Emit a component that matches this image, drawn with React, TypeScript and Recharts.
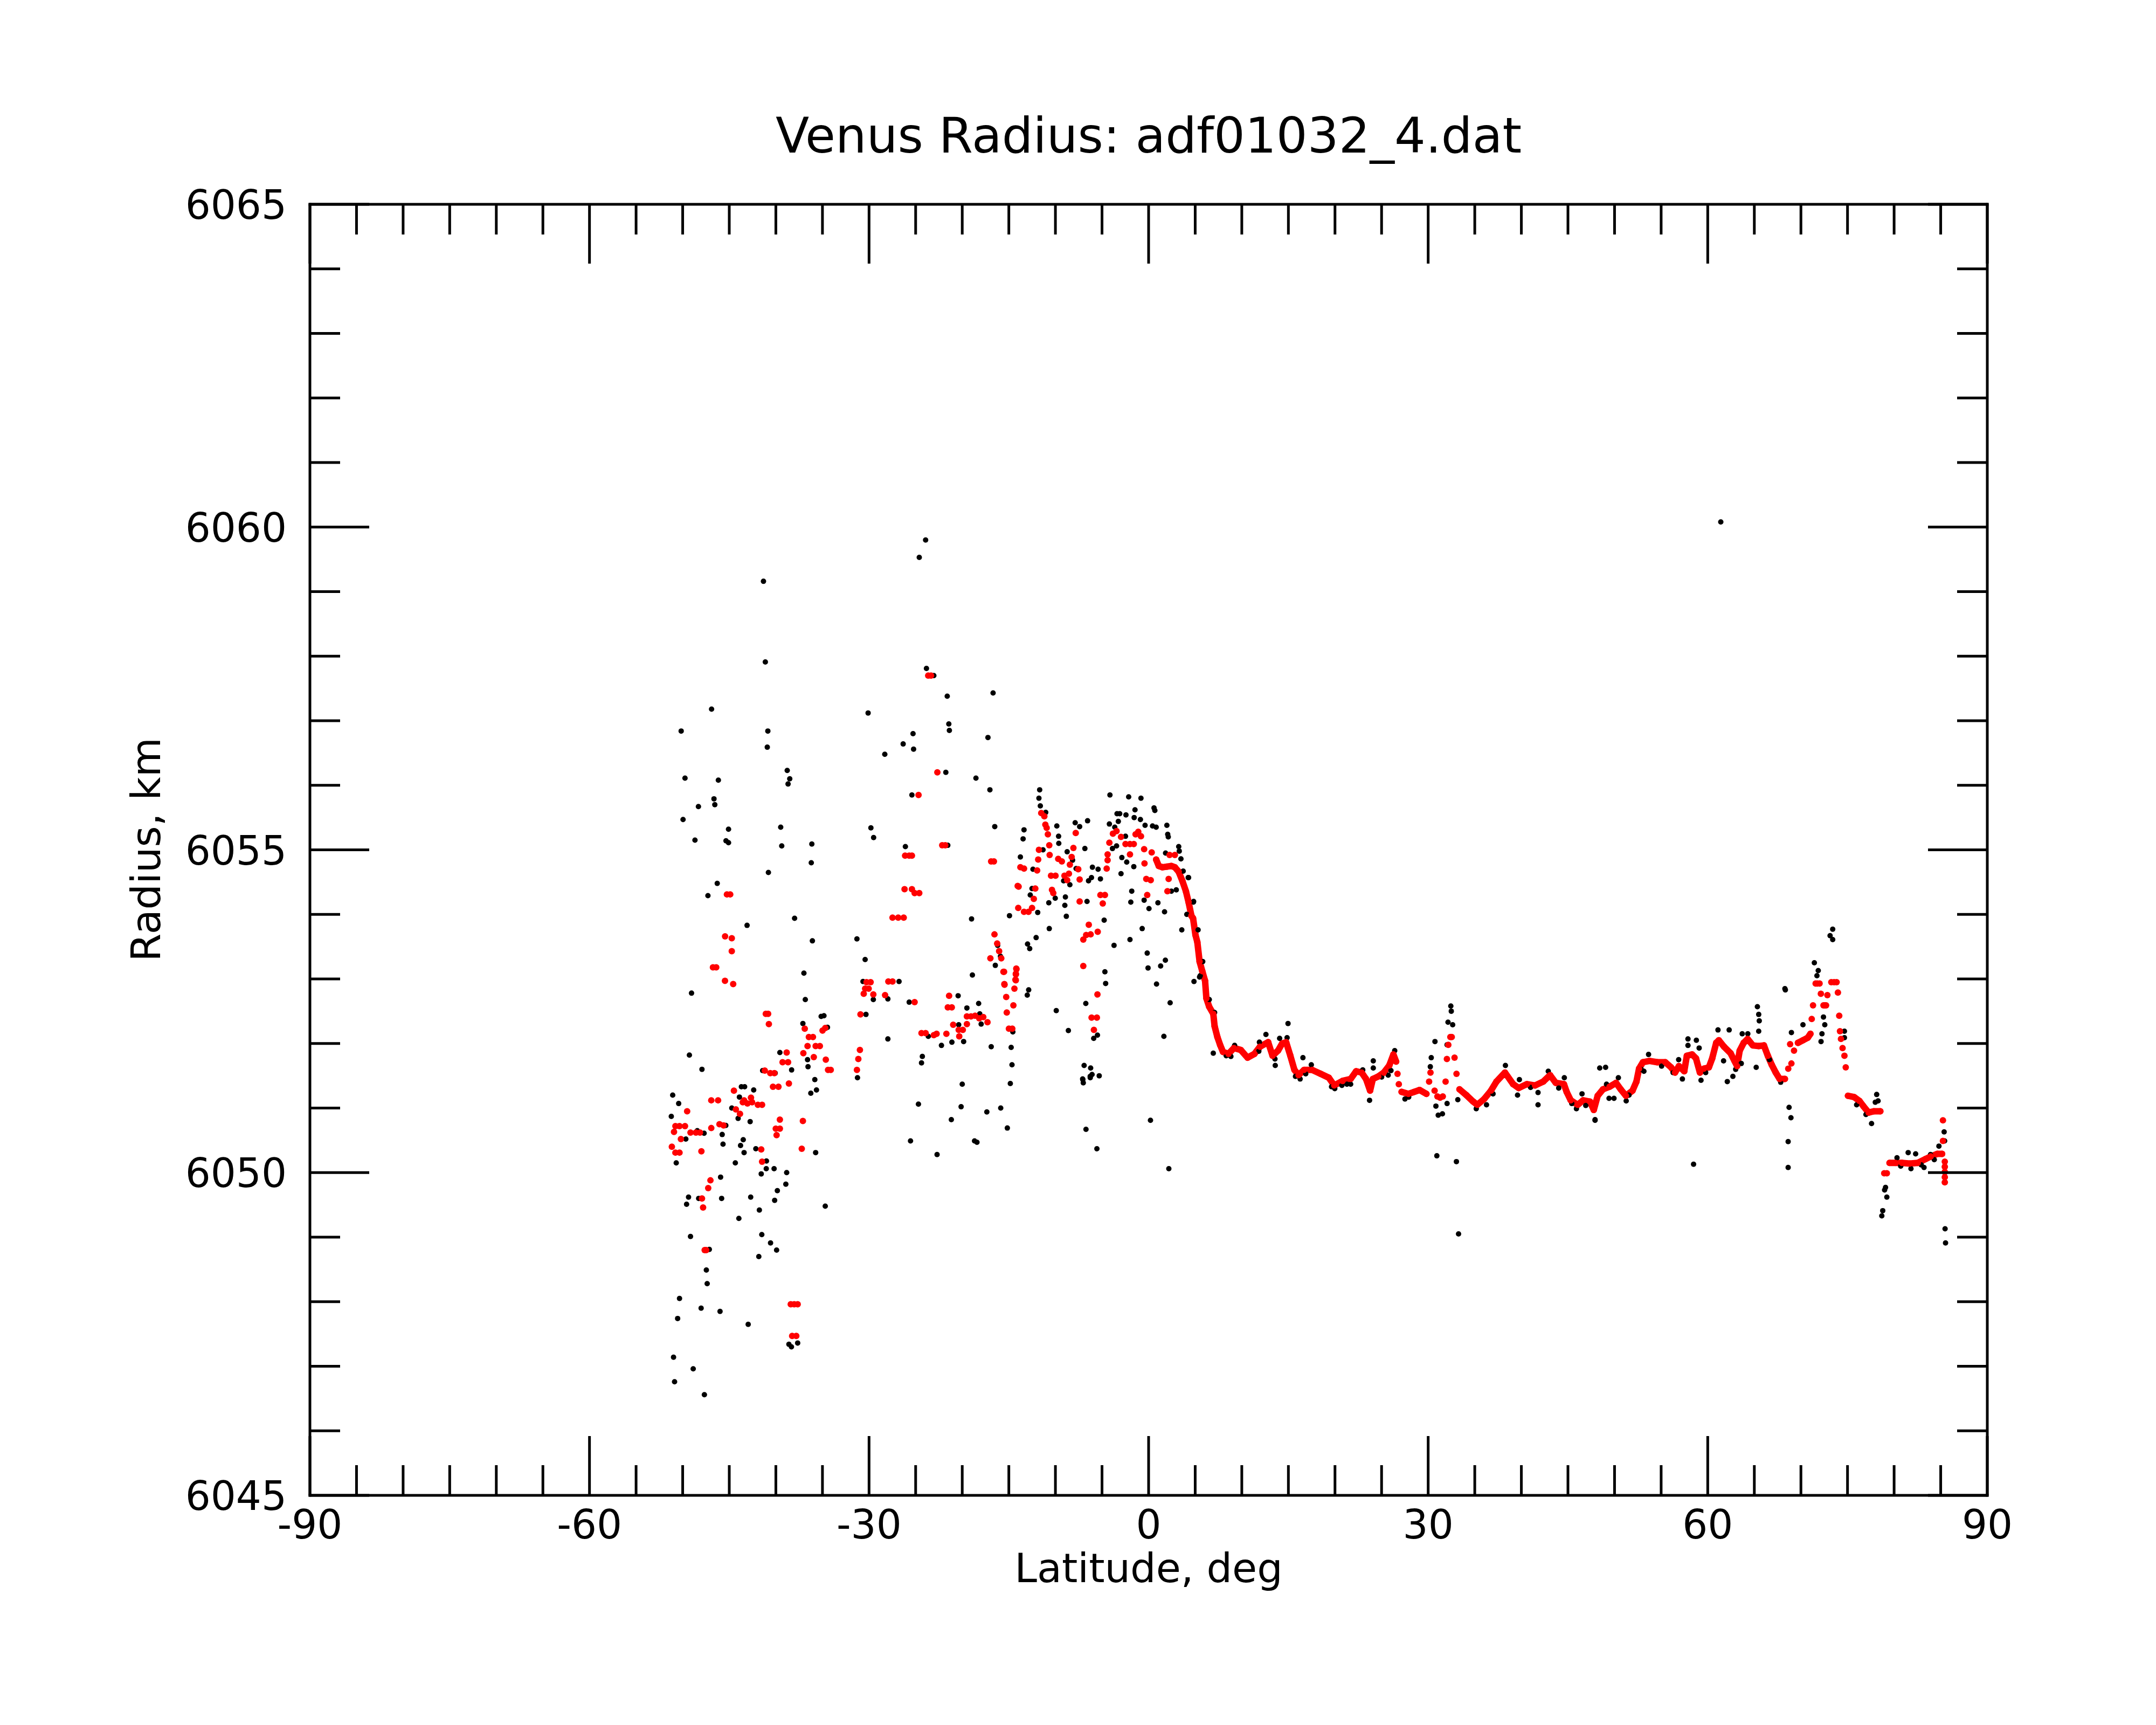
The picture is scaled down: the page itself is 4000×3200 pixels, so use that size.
import React from 'react';
import { ComposedChart, Scatter, Line, XAxis, YAxis } from 'recharts';

type P = [number, number];

// ---- axes ----
const latTicks = [-90, -85, -80, -75, -70, -65, -60, -55, -50, -45, -40, -35, -30, -25, -20, -15, -10, -5, 0, 5, 10, 15, 20, 25, 30, 35, 40, 45, 50, 55, 60, 65, 70, 75, 80, 85, 90];
const latMajor = [-90, -60, -30, 0, 30, 60, 90];
const radTicks = [6045, 6046, 6047, 6048, 6049, 6050, 6051, 6052, 6053, 6054, 6055, 6056, 6057, 6058, 6059, 6060, 6061, 6062, 6063, 6064, 6065];
const radMajor = [6045, 6050, 6055, 6060, 6065];

const TITLE = 'Venus Radius: adf01032_4.dat';
const X_LABEL = 'Latitude, deg';
const Y_LABEL = 'Radius, km';

// ---- raw measurements (black) ----
const rawSouth: P[] = [
  [-41.33, 6059.16], [-41.13, 6057.91], [-46.9, 6057.18], [-50.16, 6056.84], [-40.86, 6056.84], [-40.92, 6056.59],
  [-49.75, 6056.11], [-46.17, 6056.08], [-38.78, 6056.23], [-38.51, 6056.1], [-38.69, 6056.02], [-46.64, 6055.79],
  [-46.55, 6055.7], [-48.31, 6055.67], [-49.96, 6055.47], [-45.08, 6055.32], [-48.68, 6055.15], [-45.35, 6055.14],
  [-45.08, 6055.11], [-39.48, 6055.35], [-39.37, 6055.06], [-36.14, 6055.09], [-36.2, 6054.8], [-40.8, 6054.65],
  [-46.29, 6054.48], [-47.29, 6054.29], [-43.09, 6053.83], [-37.99, 6053.94], [-36.08, 6053.59], [-31.3, 6053.62],
  [-30.42, 6053.3], [-30.1, 6057.12],
  [-36.99, 6053.09], [-36.84, 6052.68], [-49.05, 6052.78], [-49.28, 6051.82], [-47.93, 6051.6], [-51.07, 6051.2],
  [-50.43, 6051.07], [-51.22, 6050.87], [-50.78, 6050.72], [-49.66, 6050.52], [-48.43, 6050.65], [-47.7, 6050.61],
  [-50.69, 6050.15], [-45.76, 6050.59], [-45.67, 6050.44], [-45.37, 6050.73], [-44.73, 6051.0], [-44.05, 6050.84],
  [-43.91, 6051.17], [-43.7, 6051.33], [-43.35, 6051.33], [-42.38, 6051.28], [-42.76, 6050.79], [-43.5, 6050.51],
  [-43.79, 6050.42], [-43.41, 6050.31], [-44.35, 6050.15], [-42.15, 6050.37], [-41.01, 6050.18], [-40.19, 6050.06],
  [-41.03, 6050.06], [-41.57, 6049.98], [-38.84, 6050.0], [-38.93, 6049.82], [-39.84, 6049.72], [-40.13, 6049.57],
  [-41.77, 6049.42], [-42.7, 6049.62], [-45.82, 6049.6], [-43.97, 6049.29], [-45.93, 6049.93], [-49.37, 6049.62],
  [-49.58, 6049.51], [-48.28, 6049.6], [-49.16, 6049.01], [-47.14, 6048.81], [-47.46, 6048.49], [-47.37, 6048.28],
  [-41.51, 6049.04], [-40.57, 6048.91], [-39.92, 6048.8], [-41.83, 6048.7], [-50.34, 6048.05], [-48.02, 6047.9],
  [-45.99, 6047.85], [-50.54, 6047.74], [-42.97, 6047.65], [-50.98, 6047.14], [-48.87, 6046.96], [-50.87, 6046.76],
  [-47.67, 6046.56], [-38.6, 6047.34], [-37.66, 6047.36], [-38.33, 6047.3],
  [-34.7, 6049.48], [-35.73, 6050.31], [-35.82, 6051.44], [-35.64, 6051.28], [-36.25, 6051.23], [-36.55, 6051.64],
  [-36.6, 6051.75], [-38.31, 6051.59], [-39.57, 6051.86], [-35.14, 6052.42], [-34.84, 6052.43], [-34.46, 6052.25],
  [-37.1, 6052.31], [-41.42, 6051.58], [-40.07, 6051.54], [-30.65, 6052.96], [-30.33, 6052.45], [-31.24, 6051.47],
];

const rawMid: P[] = [
  [-23.93, 6059.8], [-24.61, 6059.53], [-23.84, 6057.81], [-23.05, 6057.7], [-21.61, 6057.38], [-16.69, 6057.43],
  [-21.44, 6056.95], [-21.38, 6056.85], [-25.28, 6056.8], [-26.34, 6056.64], [-25.22, 6056.56], [-28.31, 6056.48],
  [-17.24, 6056.74], [-21.76, 6056.2], [-18.53, 6056.11], [-17.03, 6055.93], [-25.4, 6055.85], [-29.8, 6055.34],
  [-29.51, 6055.19], [-26.1, 6055.05], [-21.55, 6055.07], [-16.51, 6055.36], [-19.0, 6053.93], [-14.93, 6053.98],
  [-29.54, 6052.68], [-27.98, 6052.69], [-26.78, 6052.96], [-27.98, 6052.07], [-25.69, 6052.64], [-20.44, 6052.74],
  [-19.5, 6052.55], [-18.24, 6052.62], [-18.12, 6052.46], [-17.97, 6052.3], [-20.38, 6052.29], [-19.85, 6052.03],
  [-23.64, 6052.11], [-24.28, 6051.8], [-24.37, 6051.7], [-22.23, 6051.97], [-21.11, 6052.02], [-20.0, 6051.37],
  [-20.12, 6051.02], [-24.7, 6051.06], [-21.17, 6050.82], [-25.55, 6050.49], [-22.7, 6050.28], [-18.68, 6050.49],
  [-18.42, 6050.47], [-17.36, 6050.94], [-15.87, 6051.0], [-15.16, 6050.69], [-16.89, 6051.95], [-14.75, 6051.94],
  [-14.66, 6051.67], [-14.84, 6051.38], [-14.57, 6052.18], [-18.91, 6053.06], [-12.87, 6052.83], [-13.02, 6052.75],
  [-9.91, 6052.51], [-8.61, 6052.2], [-6.74, 6052.62], [-6.92, 6051.66], [-6.22, 6051.62], [-7.06, 6051.44],
  [-6.27, 6051.49], [-6.72, 6050.67], [-16.2, 6053.52], [-15.9, 6053.35], [-16.45, 6053.21],
  [-11.69, 6055.93], [-11.77, 6055.8], [-11.62, 6055.68], [-11.04, 6055.58], [-13.37, 6055.31], [-13.47, 6055.17],
  [-13.76, 6054.89], [-11.33, 6055.0], [-9.85, 6055.37], [-9.66, 6055.21], [-9.64, 6055.1], [-7.88, 6055.42],
  [-7.4, 6055.36], [-6.55, 6055.45], [-6.84, 6055.02], [-8.74, 6054.97], [-8.16, 6054.84], [-12.41, 6054.7],
  [-7.78, 6054.71], [-6.03, 6054.73], [-5.42, 6054.7], [-5.17, 6054.55], [-6.13, 6054.57], [-6.45, 6054.52],
  [-8.45, 6054.46], [-9.12, 6054.52], [-12.51, 6054.4], [-12.7, 6054.3], [-10.71, 6054.18], [-10.02, 6054.25],
  [-8.93, 6054.27], [-8.99, 6054.14], [-8.83, 6053.97], [-6.61, 6054.2], [-11.9, 6054.03], [-10.66, 6053.78],
  [-12.07, 6053.64], [-12.99, 6053.54], [-12.76, 6053.47], [-4.77, 6053.91], [-3.71, 6053.52], [-4.69, 6053.11],
  [-4.61, 6052.93], [-4.15, 6055.85], [-2.14, 6055.82], [-0.82, 6055.8], [-1.46, 6055.62], [0.58, 6055.65],
  [0.67, 6055.61], [-3.39, 6055.56], [-3.1, 6055.56], [-2.43, 6055.54], [-1.55, 6055.5], [-0.88, 6055.47],
  [-0.38, 6055.38], [0.42, 6055.37], [0.81, 6055.35], [1.96, 6055.38], [2.05, 6055.24], [2.11, 6055.2],
  [-4.21, 6055.4], [-3.25, 6055.44], [-3.63, 6055.35], [-3.88, 6055.02], [-3.44, 6055.06], [-2.48, 6055.21],
  [-2.87, 6054.88], [-2.35, 6054.81], [-1.59, 6054.74], [-2.96, 6054.63], [-1.81, 6054.36], [-1.91, 6054.19],
  [-0.48, 6054.22], [0.04, 6054.09], [1.0, 6054.18], [1.71, 6054.04], [-0.69, 6053.78], [-2.0, 6053.61],
  [-0.15, 6053.4], [1.8, 6053.29], [1.29, 6053.2], [-0.06, 6053.17], [0.85, 6052.92], [3.23, 6055.05],
  [3.29, 6054.98], [1.82, 6054.95], [3.47, 6054.86], [3.71, 6054.67], [4.25, 6054.57], [2.97, 6054.38],
  [2.44, 6054.36], [4.83, 6054.2], [4.1, 6054.0], [3.56, 6053.76], [5.31, 6053.76], [4.87, 6052.96],
  [5.54, 6053.05], [2.31, 6052.63], [-5.49, 6052.13], [-5.89, 6052.08], [1.64, 6052.11], [-6.07, 6051.52],
  [-6.26, 6051.47], [-5.3, 6051.5], [-7.08, 6051.45], [-7.01, 6051.39], [0.2, 6050.81], [-5.55, 6050.37],
  [2.17, 6050.06],
];

const rawNorth: P[] = [
  [4.29, 6054.57], [4.81, 6054.19], [5.81, 6053.27], [5.47, 6053.03], [6.51, 6052.68], [7.08, 6052.48],
  [6.94, 6051.85], [9.23, 6051.97], [11.89, 6052.02], [12.59, 6052.14], [13.59, 6051.66], [14.06, 6052.08],
  [14.96, 6052.31], [14.86, 6052.09], [16.56, 6051.78], [15.76, 6051.49], [17.46, 6051.67], [19.63, 6051.33],
  [20.74, 6051.35], [21.68, 6051.37], [22.98, 6051.59], [24.11, 6051.73], [24.11, 6051.62], [23.71, 6051.12],
  [26.41, 6051.89], [25.71, 6051.51], [27.51, 6051.14], [30.73, 6052.03], [30.33, 6051.78], [30.23, 6051.64],
  [30.83, 6051.03], [31.08, 6050.89], [31.53, 6050.91], [30.93, 6050.26], [32.43, 6052.58], [32.48, 6052.5],
  [32.13, 6052.33], [32.63, 6052.29], [32.03, 6051.98], [32.03, 6051.07], [33.18, 6051.13], [33.03, 6050.17],
  [33.26, 6049.05], [35.16, 6050.99], [36.26, 6051.05], [38.29, 6051.66], [39.59, 6051.2], [39.79, 6051.44],
  [41.79, 6051.05], [41.79, 6051.24], [42.89, 6051.57], [44.01, 6051.31], [44.61, 6051.47], [45.91, 6050.99],
  [46.51, 6051.22], [47.91, 6050.82], [49.04, 6051.63], [49.14, 6051.37], [49.94, 6051.15],
  [8.33, 6051.81], [8.83, 6051.8], [11.83, 6051.88], [13.56, 6051.76], [16.26, 6051.45], [16.86, 6051.53],
  [19.98, 6051.3], [21.28, 6051.37], [25.01, 6051.48], [26.01, 6051.58], [27.91, 6051.17], [36.96, 6051.22],
  [40.99, 6051.32], [45.41, 6051.07], [46.91, 6051.04],
  [73.41, 6053.77], [73.13, 6053.67], [73.41, 6053.61], [71.44, 6053.25], [71.86, 6053.13], [71.72, 6053.05],
  [68.28, 6052.85], [68.33, 6052.83], [65.33, 6052.57], [65.47, 6052.45], [65.53, 6052.35], [65.47, 6052.19],
  [70.22, 6052.29], [68.98, 6052.17], [72.26, 6052.15], [72.16, 6052.03], [72.42, 6052.41], [72.56, 6052.29],
  [74.67, 6052.19], [74.67, 6052.09], [62.3, 6052.21], [61.1, 6052.21], [57.88, 6052.07], [57.88, 6051.97],
  [58.78, 6052.05], [59.08, 6051.93], [63.7, 6052.15], [64.3, 6052.15], [65.2, 6051.63], [62.1, 6051.41],
  [62.7, 6051.49], [63.6, 6051.69], [61.7, 6051.73], [56.88, 6051.75], [57.28, 6051.45], [59.28, 6051.43],
  [58.48, 6050.13], [48.41, 6051.62], [49.41, 6051.15], [51.25, 6051.11], [47.91, 6050.81], [50.41, 6051.47],
  [53.65, 6051.83], [53.15, 6051.57], [68.73, 6051.01], [68.93, 6050.85], [68.63, 6050.48], [68.63, 6050.08],
  [78.13, 6051.21], [78.28, 6051.11], [77.98, 6051.09], [77.58, 6050.76], [79.08, 6049.77], [78.98, 6049.73],
  [79.22, 6049.62], [78.78, 6049.41], [78.68, 6049.33], [80.31, 6050.23], [81.51, 6050.31], [82.31, 6050.29],
  [81.81, 6050.06], [83.21, 6050.08], [83.91, 6050.28], [84.81, 6050.41], [85.37, 6050.63], [85.42, 6050.49],
  [85.47, 6049.13], [85.52, 6048.91], [61.4, 6060.08],
  [51.55, 6051.2], [52.85, 6051.6], [55.05, 6051.65], [56.28, 6051.55], [59.78, 6051.55], [63.0, 6051.6],
  [66.63, 6051.75], [67.83, 6051.4], [75.98, 6051.05], [76.98, 6050.9], [80.71, 6050.1], [82.91, 6050.12], [84.31, 6050.2],
];

// ---- filtered values (red), scattered ----
const fitSouth: P[] = [
  [-45.25, 6054.31], [-44.9, 6054.31], [-45.45, 6053.66], [-44.73, 6053.63], [-44.73, 6053.43], [-46.75, 6053.18],
  [-46.4, 6053.18], [-45.46, 6052.97], [-44.58, 6052.92], [-41.08, 6052.46], [-40.83, 6052.46], [-40.75, 6052.3],
  [-36.9, 6052.23], [-36.46, 6052.1], [-36.02, 6052.1], [-34.99, 6052.2], [-34.7, 6052.24], [-36.6, 6051.96],
  [-35.73, 6051.96], [-35.28, 6051.96], [-38.84, 6051.86], [-37.05, 6051.85], [-35.93, 6051.79], [-34.64, 6051.75],
  [-39.28, 6051.71], [-38.69, 6051.71], [-34.4, 6051.59], [-34.11, 6051.59], [-41.19, 6051.58], [-40.6, 6051.54],
  [-40.16, 6051.54], [-40.31, 6051.33], [-39.72, 6051.33], [-38.6, 6051.38], [-44.5, 6051.27], [-46.93, 6051.12],
  [-46.2, 6051.12], [-43.41, 6051.12], [-42.67, 6051.16], [-43.55, 6051.09], [-43.05, 6051.07], [-42.55, 6051.09],
  [-41.93, 6051.05], [-41.48, 6051.05], [-44.29, 6050.98], [-43.85, 6050.91], [-49.52, 6050.95], [-50.78, 6050.72],
  [-50.34, 6050.72], [-49.75, 6050.72], [-50.93, 6050.63], [-49.16, 6050.62], [-48.58, 6050.62], [-48.14, 6050.62],
  [-46.93, 6050.69], [-46.05, 6050.75], [-45.61, 6050.73], [-50.19, 6050.52], [-51.16, 6050.4], [-50.78, 6050.31],
  [-50.34, 6050.31], [-47.99, 6050.33], [-39.57, 6050.82], [-40.01, 6050.68], [-39.57, 6050.68], [-39.92, 6050.58],
  [-37.1, 6050.8], [-37.22, 6050.37], [-41.57, 6050.36], [-41.48, 6050.17], [-47.02, 6049.88], [-47.26, 6049.76],
  [-47.93, 6049.6], [-47.81, 6049.46], [-47.64, 6048.8], [-47.48, 6048.8], [-38.4, 6047.96], [-37.66, 6047.96],
  [-38.03, 6047.96], [-38.25, 6047.47], [-37.81, 6047.47], [-30.92, 6052.45], [-30.98, 6051.9], [-31.15, 6051.76],
  [-31.3, 6051.59], [-30.27, 6052.95], [-30.42, 6052.85], [-30.04, 6052.85], [-30.57, 6052.77],
];

const fitMid: P[] = [
  [-29.83, 6052.95], [-29.54, 6052.76], [-28.28, 6052.75], [-27.93, 6052.96], [-27.48, 6052.96], [-25.11, 6052.64],
  [-21.41, 6052.74], [-21.55, 6052.56], [-21.12, 6052.56], [-20.97, 6052.29], [-19.5, 6052.42], [-19.06, 6052.42],
  [-18.62, 6052.43], [-18.18, 6052.39], [-17.74, 6052.41], [-17.29, 6052.33], [-19.5, 6052.3], [-20.38, 6052.21],
  [-19.94, 6052.21], [-20.32, 6052.11], [-24.37, 6052.16], [-23.93, 6052.16], [-23.05, 6052.13], [-22.75, 6052.15],
  [-21.7, 6052.15], [-15.51, 6053.11], [-14.25, 6053.08], [-14.25, 6052.98], [-15.46, 6052.91], [-14.4, 6052.85],
  [-15.28, 6052.72], [-14.51, 6052.59], [-15.22, 6052.48], [-14.99, 6052.23], [-14.63, 6052.23],
  [-23.65, 6057.7], [-23.35, 6057.7], [-22.67, 6056.2], [-24.69, 6055.85], [-22.15, 6055.07], [-21.82, 6055.07],
  [-26.13, 6054.91], [-25.69, 6054.91], [-25.4, 6054.91], [-16.9, 6054.82], [-16.6, 6054.82], [-26.19, 6054.39],
  [-25.4, 6054.39], [-25.11, 6054.33], [-24.61, 6054.33], [-27.48, 6053.95], [-26.87, 6053.95], [-26.28, 6053.95],
  [-16.54, 6053.69], [-16.25, 6053.55], [-16.04, 6053.43], [-15.81, 6053.32], [-16.98, 6053.32], [-14.05, 6054.44],
  [-14.2, 6053.16],
  [-11.52, 6055.57], [-11.19, 6055.52], [-11.08, 6055.39], [-10.94, 6055.34], [-10.81, 6055.24], [-11.77, 6055.0],
  [-11.85, 6054.85], [-10.66, 6055.07], [-10.62, 6054.92], [-13.76, 6054.73], [-13.37, 6054.71], [-11.96, 6054.68],
  [-13.95, 6054.43], [-12.16, 6054.4], [-12.32, 6054.24], [-10.47, 6054.6], [-9.99, 6054.6], [-9.7, 6054.86],
  [-9.31, 6054.82], [-10.37, 6054.38], [-10.23, 6054.33], [-9.03, 6054.6], [-8.55, 6054.63], [-8.74, 6054.53],
  [-8.45, 6054.77], [-8.26, 6054.89], [-8.07, 6055.03], [-7.82, 6055.26], [-7.55, 6054.7], [-7.4, 6054.54],
  [-7.4, 6054.2], [-13.99, 6054.1], [-13.37, 6054.04], [-12.89, 6054.04], [-12.51, 6054.1], [-6.42, 6053.84],
  [-6.7, 6053.68], [-6.22, 6053.69], [-7.01, 6053.61], [-5.46, 6053.73], [-7.01, 6053.2], [-5.17, 6054.3],
  [-4.69, 6054.3], [-4.92, 6054.17], [-4.5, 6054.71], [-4.4, 6054.84], [-4.4, 6054.93], [-4.21, 6055.11],
  [-3.83, 6055.25], [-3.44, 6055.29], [-2.96, 6055.2], [-2.48, 6055.09], [-2.0, 6055.09], [-1.59, 6055.09],
  [-2.0, 6054.93], [-1.4, 6055.24], [-1.11, 6055.28], [-0.82, 6055.21], [-0.48, 6055.01], [0.33, 6054.96],
  [-0.44, 6054.79], [-0.25, 6054.55], [0.23, 6054.53], [-0.15, 6054.3], [2.25, 6054.92], [2.82, 6054.92],
  [2.15, 6054.55], [2.02, 6054.36], [-15.58, 6053.11], [-14.18, 6053.15], [-14.24, 6053.07], [-14.29, 6052.99],
  [-15.48, 6052.92], [-5.49, 6052.76], [-6.12, 6052.4], [-5.55, 6052.4], [-5.87, 6052.21],
];

const fitNorthDots: P[] = [
  [26.71, 6051.53], [26.85, 6051.37], [30.1, 6051.41], [30.25, 6051.55], [30.69, 6051.27], [30.99, 6051.18],
  [31.28, 6051.16], [31.57, 6051.18], [31.87, 6051.41], [32.01, 6051.76], [32.16, 6051.98], [32.38, 6052.1],
  [32.53, 6052.1], [32.83, 6051.78], [33.04, 6051.53],
  [68.64, 6051.61], [68.98, 6051.69], [68.84, 6051.99], [69.26, 6051.89], [71.16, 6052.38], [71.3, 6052.59],
  [71.58, 6052.93], [71.76, 6052.93], [72.0, 6052.93], [72.14, 6052.77], [72.42, 6052.59], [72.56, 6052.59],
  [72.7, 6052.59], [72.84, 6052.75], [73.26, 6052.95], [73.56, 6052.95], [73.83, 6052.95], [73.97, 6052.79],
  [74.11, 6052.43], [74.19, 6052.19], [74.3, 6052.07], [74.47, 6051.93], [74.67, 6051.81], [74.81, 6051.63],
  [78.94, 6049.99], [79.22, 6049.99], [85.24, 6050.81], [85.24, 6050.49], [85.44, 6050.17], [85.44, 6050.09],
  [85.44, 6050.01], [85.44, 6049.93], [85.44, 6049.85],
];

// ---- filtered values (red), continuous runs ----
const fitTrack1: P[] = [
  [0.81, 6054.85], [1.09, 6054.75], [1.48, 6054.73], [1.96, 6054.74], [2.44, 6054.75], [2.82, 6054.73], [3.23, 6054.66],
  [3.62, 6054.52], [4.0, 6054.36], [4.29, 6054.19], [4.59, 6053.98], [4.77, 6053.94], [5.03, 6053.68], [5.23, 6053.57],
  [5.47, 6053.27], [5.76, 6053.12], [6.06, 6052.97], [6.2, 6052.7], [6.5, 6052.57], [6.94, 6052.46], [7.08, 6052.27],
  [7.38, 6052.1], [7.67, 6051.98], [7.98, 6051.87], [8.57, 6051.84], [9.16, 6051.93], [9.89, 6051.9], [10.62, 6051.78],
  [11.36, 6051.84], [11.95, 6051.95], [12.83, 6052.02], [13.3, 6051.81], [13.89, 6051.89], [14.33, 6052.0],
  [14.76, 6052.02], [15.21, 6051.81], [15.65, 6051.59], [16.09, 6051.51], [16.68, 6051.59], [17.56, 6051.59],
  [18.46, 6051.53], [19.34, 6051.47], [19.92, 6051.35], [20.81, 6051.42], [21.68, 6051.45], [22.27, 6051.57],
  [22.86, 6051.55], [23.33, 6051.45], [23.77, 6051.27], [24.06, 6051.45], [24.65, 6051.49], [25.24, 6051.55],
  [25.83, 6051.66], [26.27, 6051.83], [26.56, 6051.72],
];
const fitTrack1b: P[] = [
  [27.15, 6051.25], [27.88, 6051.22], [28.49, 6051.25], [29.08, 6051.28], [29.81, 6051.22],
];
const fitTrack2: P[] = [
  [33.36, 6051.29], [34.1, 6051.2], [34.83, 6051.1], [35.27, 6051.05], [36.01, 6051.14], [36.74, 6051.27],
  [37.33, 6051.41], [38.24, 6051.55], [39.12, 6051.37], [39.71, 6051.31], [40.59, 6051.37], [41.47, 6051.35],
  [42.35, 6051.41], [43.08, 6051.51], [43.69, 6051.39], [44.57, 6051.37], [44.86, 6051.25], [45.3, 6051.12],
  [46.04, 6051.05], [46.63, 6051.12], [47.36, 6051.1], [47.77, 6050.97], [48.19, 6051.19], [48.76, 6051.29],
  [49.46, 6051.33], [50.16, 6051.39], [50.66, 6051.29], [51.22, 6051.19], [51.93, 6051.27], [52.35, 6051.41],
  [52.63, 6051.61], [53.05, 6051.71], [53.75, 6051.73], [54.59, 6051.71], [55.44, 6051.71], [56.07, 6051.63],
  [56.49, 6051.55], [56.91, 6051.65], [57.48, 6051.57], [57.76, 6051.81], [58.32, 6051.83], [58.74, 6051.77],
  [59.16, 6051.55], [59.58, 6051.61], [60.12, 6051.63], [60.48, 6051.77], [60.91, 6052.01], [61.19, 6052.05],
  [61.75, 6051.95], [62.45, 6051.85], [62.87, 6051.73], [63.15, 6051.65], [63.43, 6051.89], [63.86, 6052.01],
  [64.28, 6052.07], [64.84, 6051.97], [65.47, 6051.96], [66.03, 6051.97], [66.45, 6051.81], [66.87, 6051.67],
  [67.3, 6051.55], [67.72, 6051.45], [68.28, 6051.45],
];
const fitTrack3: P[] = [[69.68, 6052.01], [70.22, 6052.05], [70.74, 6052.09], [71.02, 6052.15]];
const fitTrack4: P[] = [
  [75.05, 6051.19], [75.71, 6051.17], [76.28, 6051.11], [76.7, 6051.03], [77.26, 6050.93], [77.82, 6050.95], [78.52, 6050.95],
];
const fitTrack5: P[] = [
  [79.51, 6050.15], [80.14, 6050.15], [80.84, 6050.15], [81.68, 6050.14], [82.53, 6050.15], [83.37, 6050.21],
  [83.93, 6050.25], [84.63, 6050.29], [85.15, 6050.29],
];

// ---- styling / layout ----
const W = 4000;
const H = 3200;
const FONT = '"DejaVu Sans", Verdana, sans-serif';
const LW = 5;
const MAJOR_LEN = 110;
const MINOR_LEN = 56;
const TICK_FONT = 74;
const LABEL_FONT = 75;
const TITLE_FONT = 91;
const BLACK = '#000000';
const RED = '#ff0000';
const CX = 2131;

const toPts = (a: P[]) => a.map(([lat, r]) => ({ lat, r }));

const BottomTick = (props: any) => {
  const { x, y, payload } = props;
  const v = payload.value;
  const major = latMajor.includes(v);
  return (
    <g>
      <line x1={x} y1={y} x2={x} y2={y - (major ? MAJOR_LEN : MINOR_LEN)} stroke={BLACK} strokeWidth={LW} />
      {major && (
        <text x={x} y={y + 80} textAnchor="middle" fontSize={TICK_FONT} fontFamily={FONT} fill={BLACK}>
          {String(v)}
        </text>
      )}
    </g>
  );
};

const TopTick = (props: any) => {
  const { x, y, payload } = props;
  const major = latMajor.includes(payload.value);
  return <line x1={x} y1={y} x2={x} y2={y + (major ? MAJOR_LEN : MINOR_LEN)} stroke={BLACK} strokeWidth={LW} />;
};

const LeftTick = (props: any) => {
  const { x, y, payload } = props;
  const v = payload.value;
  const major = radMajor.includes(v);
  return (
    <g>
      <line x1={x} y1={y} x2={x + (major ? MAJOR_LEN : MINOR_LEN)} y2={y} stroke={BLACK} strokeWidth={LW} />
      {major && (
        <text x={x - 43} y={y + 27} textAnchor="end" fontSize={TICK_FONT} fontFamily={FONT} fill={BLACK}>
          {String(v)}
        </text>
      )}
    </g>
  );
};

const RightTick = (props: any) => {
  const { x, y, payload } = props;
  const major = radMajor.includes(payload.value);
  return <line x1={x} y1={y} x2={x - (major ? MAJOR_LEN : MINOR_LEN)} y2={y} stroke={BLACK} strokeWidth={LW} />;
};

const blackDot = (p: any) => <circle cx={p.cx} cy={p.cy} r={5} fill={BLACK} />;
const redDot = (p: any) => <circle cx={p.cx} cy={p.cy} r={6} fill={RED} />;

const axisLine = { stroke: BLACK, strokeWidth: LW, strokeLinecap: 'square' as const };

export default function App() {
  const rawSets = [rawSouth, rawMid, rawNorth];
  const dotSets = [fitSouth, fitMid, fitNorthDots];
  const tracks = [fitTrack1, fitTrack1b, fitTrack2, fitTrack3, fitTrack4, fitTrack5];
  return (
    <div style={{ position: 'relative', width: W, height: H, background: '#fff' }}>
      <style>{'body{margin:0;background:#fff;}'}</style>
      <ComposedChart width={W} height={H} margin={{ top: 378, right: 312, bottom: 326, left: 475 }}>
        <XAxis
          xAxisId={0}
          dataKey="lat"
          type="number"
          domain={[-90, 90]}
          ticks={latTicks}
          interval={0}
          orientation="bottom"
          height={100}
          tickSize={0}
          tickMargin={0}
          axisLine={axisLine}
          tickLine={false}
          tick={(p: any) => <BottomTick {...p} />}
          allowDataOverflow
        />
        <XAxis
          xAxisId="top"
          dataKey="lat"
          type="number"
          domain={[-90, 90]}
          ticks={latTicks}
          interval={0}
          orientation="top"
          height={1}
          tickSize={0}
          tickMargin={0}
          axisLine={axisLine}
          tickLine={false}
          tick={(p: any) => <TopTick {...p} />}
          allowDataOverflow
        />
        <YAxis
          yAxisId={0}
          dataKey="r"
          type="number"
          domain={[6045, 6065]}
          ticks={radTicks}
          interval={0}
          orientation="left"
          width={100}
          tickSize={0}
          tickMargin={0}
          axisLine={axisLine}
          tickLine={false}
          tick={(p: any) => <LeftTick {...p} />}
          allowDataOverflow
        />
        <YAxis
          yAxisId="right"
          dataKey="r"
          type="number"
          domain={[6045, 6065]}
          ticks={radTicks}
          interval={0}
          orientation="right"
          width={1}
          tickSize={0}
          tickMargin={0}
          axisLine={axisLine}
          tickLine={false}
          tick={(p: any) => <RightTick {...p} />}
          allowDataOverflow
        />
        {rawSets.map((s, i) => (
          <Scatter key={'raw' + i} data={toPts(s)} dataKey="r" shape={blackDot} isAnimationActive={false} />
        ))}
        {tracks.map((s, i) => (
          <Line
            key={'trk' + i}
            data={toPts(s)}
            dataKey="r"
            type="linear"
            stroke={RED}
            strokeWidth={12}
            strokeLinejoin="round"
            strokeLinecap="round"
            dot={false}
            activeDot={false}
            isAnimationActive={false}
          />
        ))}
        {dotSets.concat(tracks).map((s, i) => (
          <Scatter key={'fit' + i} data={toPts(s)} dataKey="r" shape={redDot} isAnimationActive={false} />
        ))}
      </ComposedChart>
      <svg width={W} height={H} style={{ position: 'absolute', left: 0, top: 0, pointerEvents: 'none' }}>
        <text x={CX} y={283} textAnchor="middle" fontSize={TITLE_FONT} fontFamily={FONT} fill={BLACK}>
          {TITLE}
        </text>
        <text x={CX} y={2935} textAnchor="middle" fontSize={LABEL_FONT} fontFamily={FONT} fill={BLACK}>
          {X_LABEL}
        </text>
        <text
          x={297}
          y={1576}
          textAnchor="middle"
          fontSize={LABEL_FONT}
          fontFamily={FONT}
          fill={BLACK}
          transform="rotate(-90 297 1576)"
        >
          {Y_LABEL}
        </text>
      </svg>
    </div>
  );
}
